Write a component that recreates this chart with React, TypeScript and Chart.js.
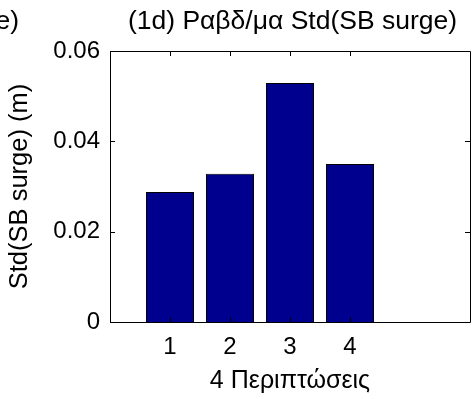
import React, { useEffect, useRef } from "react";
import { Chart, registerables } from "chart.js";

Chart.register(...registerables);

const categories = [1, 2, 3, 4];
const stdSurge = [0.0288, 0.0328, 0.0529, 0.035];
const yTickValues = [0, 0.02, 0.04, 0.06];
const xTickValues = [1, 2, 3, 4];
const titleText = "(1d) Ραβδ/μα Std(SB surge)";
const xTitleText = "4 Περιπτώσεις";
const yTitleText = "Std(SB surge) (m)";
const leftFragment = "e)";

const FONT = "'Liberation Sans', Arial, Helvetica, sans-serif";
const TITLE_FS = 26.5;
const AXIS_FS = 25.5;
const XTITLE_FS = 25;
const TICK_FS = 24;

const framePlugin = {
  id: "matlabFrame",
  afterDraw(chart: any) {
    const { ctx, chartArea } = chart;
    const { left, right, top, bottom } = chartArea;
    const xs = chart.scales.x;
    const ys = chart.scales.y;
    ctx.save();
    ctx.strokeStyle = "#000";
    ctx.lineWidth = 1;
    ctx.beginPath();
    ctx.rect(Math.round(left) + 0.5, Math.round(top) + 0.5, Math.round(right - left), Math.round(bottom - top));
    const tl = 5;
    for (const v of yTickValues) {
      const y = Math.round(ys.getPixelForValue(v)) + 0.5;
      ctx.moveTo(left, y);
      ctx.lineTo(left + tl, y);
      ctx.moveTo(right, y);
      ctx.lineTo(right - tl, y);
    }
    for (const v of xTickValues) {
      const x = Math.round(xs.getPixelForValue(v)) + 0.5;
      ctx.moveTo(x, bottom);
      ctx.lineTo(x, bottom - tl);
      ctx.moveTo(x, top);
      ctx.lineTo(x, top + tl);
    }
    ctx.stroke();
    ctx.fillStyle = "#000";
    ctx.font = `${TITLE_FS}px ${FONT}`;
    ctx.textBaseline = "middle";
    ctx.textAlign = "center";
    ctx.fillText(titleText, 292.5, 21.5);
    ctx.textAlign = "right";
    ctx.fillText(leftFragment, 19, 21.5);
    ctx.restore();
  },
};

export default function App() {
  const ref = useRef<HTMLCanvasElement | null>(null);
  useEffect(() => {
    if (!ref.current) return;
    const chart = new Chart(ref.current, {
      type: "bar",
      data: {
        datasets: [
          {
            data: categories.map((c, i) => ({ x: c, y: stdSurge[i] })),
            backgroundColor: "rgb(0,0,143)",
            borderColor: "#000",
            borderWidth: 1,
            barPercentage: 0.8,
            categoryPercentage: 1,
          },
        ],
      },
      options: {
        responsive: false,
        animation: false,
        layout: { padding: { top: 51, right: 2, bottom: 0, left: 0 } },
        plugins: { legend: { display: false }, title: { display: false }, tooltip: { enabled: false } },
        scales: {
          x: {
            type: "linear",
            min: 0,
            max: 6,
            offset: false,
            grid: { display: false, drawTicks: false },
            border: { display: false },
            afterBuildTicks: (s: any) => {
              s.ticks = xTickValues.map((v) => ({ value: v }));
            },
            afterFit: (s: any) => {
              s.height = 77;
            },
            ticks: {
              color: "#000",
              padding: 11,
              autoSkip: false,
              maxRotation: 0,
              font: { family: FONT, size: TICK_FS },
              callback: (v: any) => String(v),
            },
            title: {
              display: true,
              text: xTitleText,
              color: "#000",
              font: { family: FONT, size: XTITLE_FS },
              padding: { top: 0, bottom: 3 },
            },
          },
          y: {
            type: "linear",
            min: 0,
            max: 0.06,
            grid: { display: false, drawTicks: false },
            border: { display: false },
            afterBuildTicks: (s: any) => {
              s.ticks = yTickValues.map((v) => ({ value: v }));
            },
            afterFit: (s: any) => {
              s.width = 110;
            },
            ticks: {
              color: "#000",
              padding: 10,
              font: { family: FONT, size: TICK_FS },
              callback: (v: any) => (v === 0 ? "0" : Number(v).toFixed(2)),
            },
            title: {
              display: true,
              text: yTitleText,
              color: "#000",
              font: { family: FONT, size: AXIS_FS },
              padding: { top: 5, bottom: 0 },
            },
          },
        },
      },
      plugins: [framePlugin],
    } as any);
    return () => chart.destroy();
  }, []);
  return (
    <div style={{ position: "absolute", left: 0, top: 0, width: 472, height: 399, background: "#fff" }}>
      <canvas ref={ref} width={472} height={399} style={{ display: "block" }} />
    </div>
  );
}
